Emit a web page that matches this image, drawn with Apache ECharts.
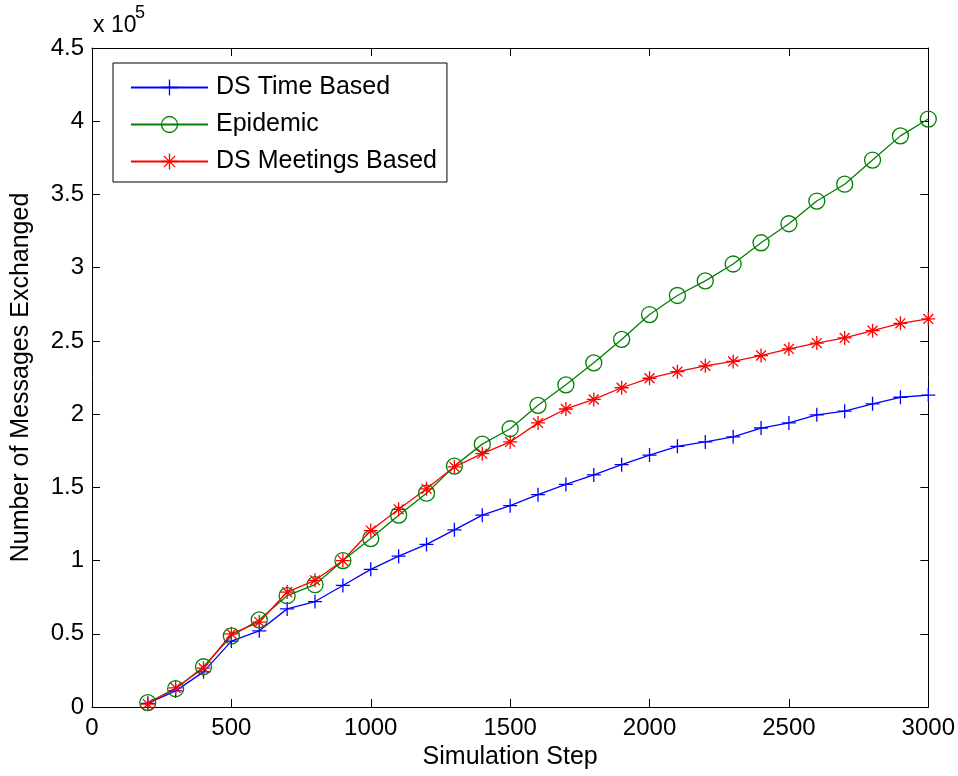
<!DOCTYPE html>
<html>
<head>
<meta charset="utf-8">
<script src="https://cdn.jsdelivr.net/npm/echarts@6/dist/echarts.min.js"></script>
<style>html,body{margin:0;padding:0;background:#fff}#c{width:958px;height:776px}</style>
</head>
<body>
<div id="c"></div>
<script>
// Data (values in units of 10^5 messages)
var steps = [200,300,400,500,600,700,800,900,1000,1100,1200,1300,1400,1500,1600,1700,1800,1900,2000,2100,2200,2300,2400,2500,2600,2700,2800,2900,3000];
var dsTimeBased = [0.025,0.11,0.24,0.45,0.52,0.67,0.72,0.83,0.94,1.03,1.11,1.21,1.31,1.375,1.45,1.52,1.585,1.655,1.72,1.78,1.81,1.845,1.905,1.94,1.995,2.02,2.07,2.115,2.13];
var epidemic = [0.03,0.125,0.275,0.485,0.595,0.76,0.835,1.0,1.15,1.31,1.46,1.645,1.795,1.90,2.06,2.20,2.35,2.51,2.68,2.81,2.91,3.025,3.17,3.30,3.455,3.57,3.735,3.90,4.015];
var dsMeetingsBased = [0.02,0.13,0.265,0.5,0.58,0.785,0.865,1.0,1.205,1.35,1.49,1.64,1.73,1.81,1.94,2.035,2.10,2.18,2.245,2.29,2.33,2.36,2.40,2.445,2.485,2.52,2.57,2.62,2.65];
var seriesNames = ['DS Time Based','Epidemic','DS Meetings Based'];
var xTicks = {min:0, max:3000, interval:500};
var yTicks = {min:0, max:4.5, interval:0.5};

function pairs(ys){ return steps.map(function(s,i){ return [s, ys[i]]; }); }

var FONT = "'Liberation Sans', Arial, Helvetica, sans-serif";
var PLUS = 'path://M0,-1L0,1M-1,0L1,0';
var STAR = 'path://M0,-1L0,1M-1,0L1,0M-0.707,-0.707L0.707,0.707M-0.707,0.707L0.707,-0.707';
var CIRC = 'path://M1,0A1,1 0 1,1 -1,0A1,1 0 1,1 1,0Z';

var chart = echarts.init(document.getElementById('c'), null, {renderer:'canvas'});
var axisCommon = {
  type:'value',
  axisLine:{show:true, onZero:false, lineStyle:{color:'#000', width:1}},
  axisTick:{show:true, inside:true, length:8, lineStyle:{color:'#000', width:1}},
  splitLine:{show:false}
};
function ax(extra, base){ return Object.assign({}, axisCommon, base, extra); }
function plain(v){ return String(v); }

chart.setOption({
  animation:false,
  backgroundColor:'#fff',
  textStyle:{fontFamily:FONT},
  grid:{left:92, right:29, top:48, bottom:69, show:false},
  legend:{
    orient:'vertical', left:113, top:63,
    data:seriesNames,
    backgroundColor:'#fff', borderColor:'#000', borderWidth:1, borderRadius:0,
    padding:[12,10,8,17],
    itemWidth:77, itemHeight:20, itemGap:12,
    itemStyle:{borderWidth:1.3},
    textStyle:{fontSize:25, color:'#000', fontFamily:FONT, padding:[0,0,0,3]}
  },
  xAxis:[
    ax({position:'bottom', name:'Simulation Step', nameLocation:'middle', nameGap:36,
        nameTextStyle:{fontSize:25, color:'#000', fontFamily:FONT},
        axisLabel:{show:true, margin:9, fontSize:24, color:'#000', fontFamily:FONT, formatter:plain}}, xTicks),
    ax({position:'top', axisLabel:{show:false}}, xTicks)
  ],
  yAxis:[
    ax({position:'left', name:'Number of Messages Exchanged', nameLocation:'middle', nameGap:58,
        nameTextStyle:{fontSize:25, color:'#000', fontFamily:FONT},
        axisLabel:{show:true, margin:8, fontSize:24, color:'#000', fontFamily:FONT, formatter:plain}}, yTicks),
    ax({position:'right', axisLabel:{show:false}}, yTicks)
  ],
  graphic:[
    {type:'text', left:93, top:14, style:{text:'x 10', font:'23px '+FONT, fill:'#000'}},
    {type:'text', left:135, top:4, style:{text:'5', font:'18px '+FONT, fill:'#000'}}
  ],
  series:[
    {name:seriesNames[0], type:'line', data:pairs(dsTimeBased), symbol:PLUS, symbolSize:14,
     lineStyle:{color:'#0000ff', width:1.3},
     itemStyle:{color:'#0000ff', borderColor:'#0000ff', borderWidth:1.3}},
    {name:seriesNames[1], type:'line', data:pairs(epidemic), symbol:CIRC, symbolSize:16,
     lineStyle:{color:'#008000', width:1.3},
     itemStyle:{color:'rgba(0,0,0,0)', borderColor:'#008000', borderWidth:1.3}},
    {name:seriesNames[2], type:'line', data:pairs(dsMeetingsBased), symbol:STAR, symbolSize:14,
     lineStyle:{color:'#ff0000', width:1.3},
     itemStyle:{color:'#ff0000', borderColor:'#ff0000', borderWidth:1.3}}
  ]
});
</script>
</body>
</html>
